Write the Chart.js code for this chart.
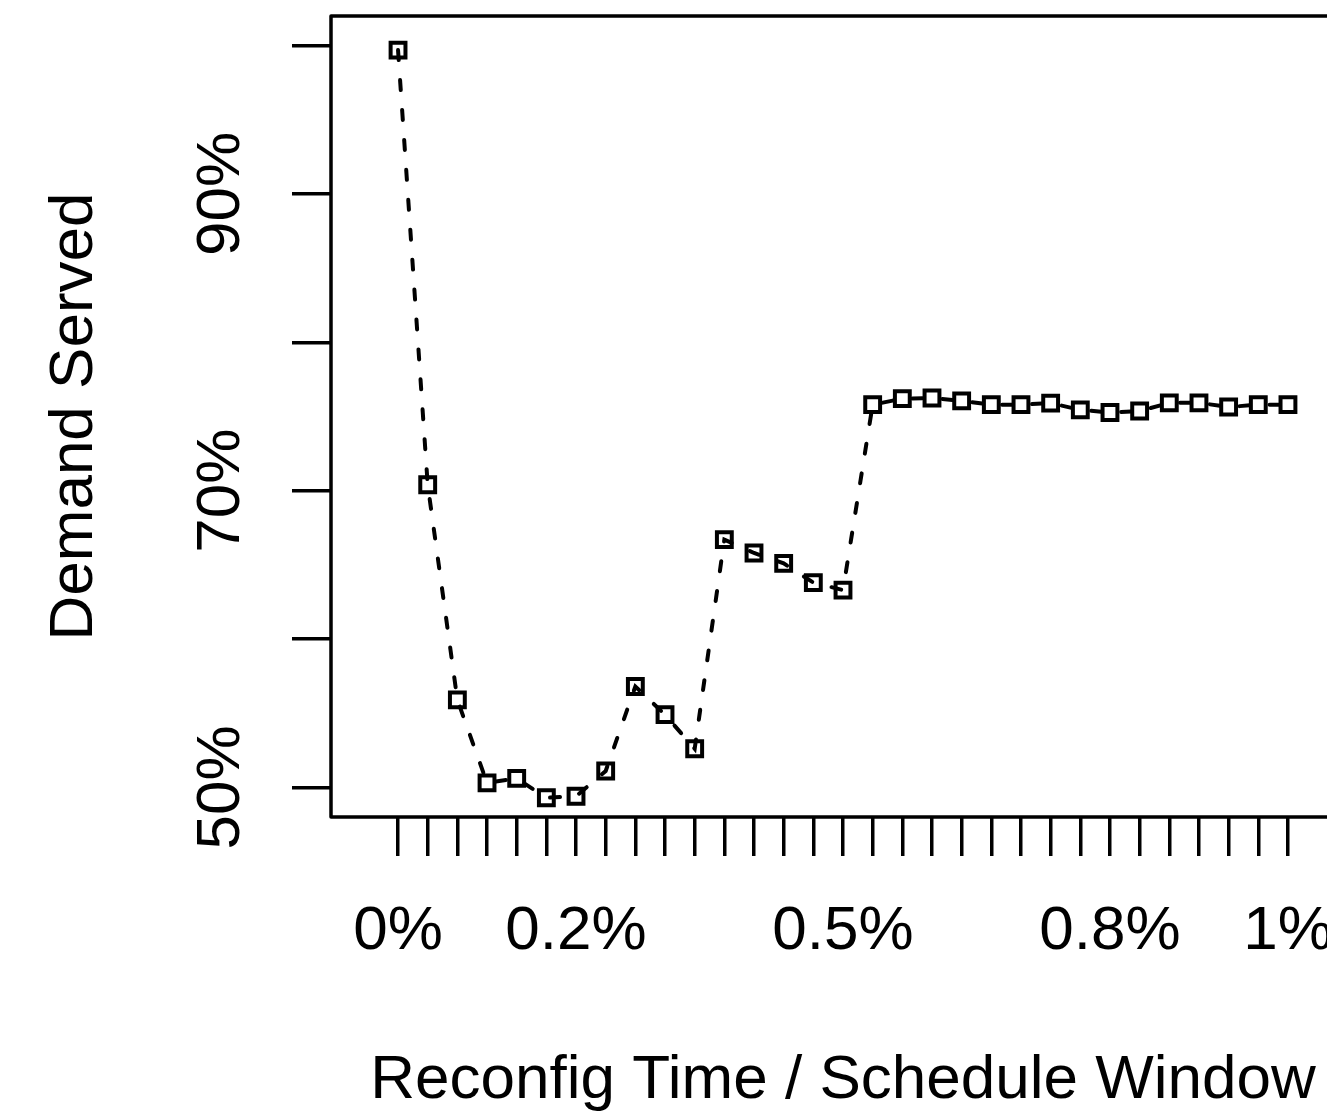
<!DOCTYPE html>
<html>
<head>
<meta charset="utf-8">
<script src="https://cdn.jsdelivr.net/npm/chart.js@4/dist/chart.umd.min.js"></script>
<style>
  html, body { margin: 0; padding: 0; background: #fff; overflow: hidden; }
  #wrap { width: 1400px; height: 1120px; }
</style>
</head>
<body>
<div id="wrap"><canvas id="c" width="1400" height="1120"></canvas></div>
<script>
// Reconfig time / schedule window steps (index of 1/30 % increments)
const xSteps = [0, 1, 2, 3, 4, 5, 6, 7, 8, 9, 10, 11, 12, 13, 14, 15,
                16, 17, 18, 19, 20, 21, 22, 23, 24, 25, 26, 27, 28, 29, 30];
// Demand served (%)
const demandServed = [99.7, 70.4, 55.9, 50.3, 50.6, 49.3, 49.4, 51.1, 56.8, 54.9, 52.6,
                      66.7, 65.8, 65.1, 63.8, 63.3, 75.8, 76.2, 76.25, 76.05, 75.8,
                      75.8, 75.9, 75.45, 75.27, 75.37, 75.92, 75.92, 75.64, 75.8, 75.8];
// Tick labels
const xTickLabels = { 0: '0%', 6: '0.2%', 15: '0.5%', 24: '0.8%', 30: '1%' };
const yTicks = [50, 60, 70, 80, 90, 100];
const yTickLabels = { 50: '50%', 70: '70%', 90: '90%' };

const FONT = "'Liberation Sans', Arial, Helvetica, sans-serif";
const FS = 62;

const framePlugin = {
  id: 'frame',
  afterDraw(chart) {
    const a = chart.chartArea, ctx = chart.ctx;
    ctx.save();
    ctx.strokeStyle = '#000';
    ctx.lineWidth = 3.5;
    ctx.lineJoin = 'round';
    ctx.strokeRect(a.left, a.top, a.right - a.left, a.bottom - a.top);
    ctx.restore();
  }
};

new Chart(document.getElementById('c'), {
  type: 'line',
  data: {
    datasets: [{
      data: xSteps.map((x, i) => ({ x: x, y: demandServed[i] })),
      borderColor: '#000',
      borderWidth: 4,
      borderDash: [10, 20],
      borderCapStyle: 'round',
      tension: 0,
      fill: false,
      pointStyle: 'rect',
      pointRadius: 10.5,
      pointHoverRadius: 10.5,
      pointBorderWidth: 4,
      pointBorderColor: '#000',
      pointBackgroundColor: 'rgba(0,0,0,0)'
    }]
  },
  plugins: [framePlugin],
  options: {
    responsive: false,
    animation: false,
    events: [],
    layout: { padding: { top: 16, right: 45, bottom: 0, left: 0 } },
    plugins: { legend: { display: false }, tooltip: { enabled: false } },
    scales: {
      x: {
        type: 'linear',
        min: -2.26,
        max: 32.26,
        afterBuildTicks: (s) => { s.ticks = xSteps.map(v => ({ value: v })); },
        afterFit: (s) => { s.height = 303; s.paddingLeft = 0; s.paddingRight = 0; },
        border: { display: false },
        grid: { drawOnChartArea: false, drawTicks: true, tickLength: 39, color: '#000', lineWidth: 3.5 },
        ticks: {
          autoSkip: false, maxRotation: 0, minRotation: 0,
          padding: 39,
          color: '#000',
          font: { family: FONT, size: FS },
          callback: (v) => (xTickLabels[v] !== undefined ? xTickLabels[v] : '')
        },
        title: {
          display: true, text: 'Reconfig Time / Schedule Window', color: '#000',
          font: { family: FONT, size: FS }, padding: { top: 0, bottom: 2 }
        }
      },
      y: {
        type: 'linear',
        min: 48,
        max: 102,
        afterBuildTicks: (s) => { s.ticks = yTicks.map(v => ({ value: v })); },
        afterFit: (s) => { s.width = 331; s.paddingTop = 0; s.paddingBottom = 0; },
        border: { display: false },
        grid: { drawOnChartArea: false, drawTicks: true, tickLength: 39, color: '#000', lineWidth: 3.5 },
        ticks: {
          autoSkip: false, minRotation: 90, maxRotation: 90,
          crossAlign: 'center',
          padding: 8,
          color: '#000',
          font: { family: FONT, size: FS },
          callback: (v) => (yTickLabels[v] !== undefined ? yTickLabels[v] : '')
        },
        title: {
          display: true, text: 'Demand Served', color: '#000',
          font: { family: FONT, size: FS }, padding: { top: 38, bottom: 0 }
        }
      }
    }
  }
});
</script>
</body>
</html>
